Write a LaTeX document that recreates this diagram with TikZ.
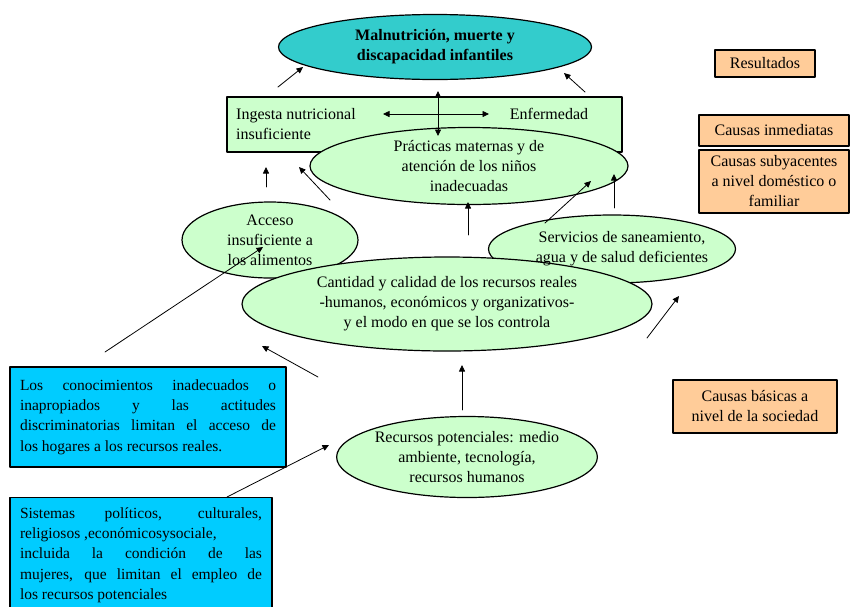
\documentclass[tikz,border=0pt]{standalone}
\usepackage{fontspec}
\setmainfont{Liberation Serif}
\usetikzlibrary{arrows.meta,shapes.geometric,positioning}
\definecolor{unTeal}{HTML}{33CCCC}
\definecolor{unMint}{HTML}{CCFFCC}
\definecolor{unCyan}{HTML}{00CCFF}
\definecolor{unPeach}{HTML}{FFCC99}
\tikzset{
 cadena/.style={font=\fontsize{16}{20}\selectfont,line cap=round,line join=round},
 oval/.style={ellipse,draw=black,fill=unMint,line width=1.2pt,inner sep=0pt,align=center},
 topoval/.style={oval,fill=unTeal,font=\fontsize{16}{20}\selectfont\bfseries},
 ovaltext/.style={inner sep=0pt,align=center},
 greenbox/.style={rectangle,draw=black,fill=unMint,line width=1.2pt,inner sep=0pt},
 boxtext/.style={inner sep=0pt,align=left},
 bluebox/.style={rectangle,draw=black,fill=unCyan,line width=1.2pt,inner sep=0pt,align=justify,
   font=\fontsize{15.5}{20.2}\selectfont},
 keybox/.style={rectangle,draw=black,fill=unPeach,line width=1.2pt,inner sep=0pt,align=center},
 flecha/.style={draw=black,line width=.8pt,-{Triangle[length=6.5pt,width=6pt]}},
 doble/.style={draw=black,line width=.8pt,{Triangle[length=6.5pt,width=6pt]}-{Triangle[length=6.5pt,width=6pt]}}
}

\begin{document}
\begin{tikzpicture}[cadena,x=1pt,y=-1pt]
 \clip (0,0) rectangle (850,606);
 % resultados
 \node[topoval,minimum width=313pt,minimum height=65pt] (malnut) at (435,47) {Malnutrición, muerte y\\discapacidad infantiles};
 % causas inmediatas
 \node[greenbox,minimum width=395pt,minimum height=55pt] (inmed) at (424.5,124.5) {};
 \node[boxtext,anchor=west] (ingesta) at (236,124) {Ingesta nutricional\\insuficiente};
 \node[boxtext] (enferm) at (549,114) {Enfermedad};
 \node[oval,minimum width=318pt,minimum height=77pt] (practicas) at (469,166) {Prácticas maternas y de\\atención de los niños\\inadecuadas};
 % causas subyacentes
 \node[oval,minimum width=176pt,minimum height=76pt] (acceso) at (270,240) {};
 \node[oval,minimum width=247pt,minimum height=68pt] (servicios) at (612,249) {};
 \node[oval,minimum width=410pt,minimum height=94pt] (reales) at (447,304) {Cantidad y calidad de los recursos reales\\-humanos, económicos y organizativos-\\y el modo en que se los controla};
 \node[ovaltext] (accesoTxt) at (acceso) {Acceso\\insuficiente a\\los alimentos};
 \node[ovaltext] (serviciosTxt) at (622,249) {Servicios de saneamiento,\\agua y de salud deficientes};
 % causas basicas
 \node[oval,minimum width=260pt,minimum height=81pt] (potencial) at (467,457) {Recursos potenciales: medio\\ambiente, tecnología,\\recursos humanos};
 \node[bluebox,minimum width=276pt,minimum height=100pt,text width=256pt] (conoc) at (148,417)
  {Los conocimientos inadecuados o\linebreak inapropiados y las actitudes\linebreak discriminatorias limitan el acceso de\linebreak los hogares a los recursos reales.};
 \node[bluebox,anchor=north,minimum width=262pt,minimum height=115pt,text width=242pt] (sistemas) at (141,497)
  {Sistemas políticos, culturales,\linebreak religiosos ,económicosysociale,\\ incluida la condición de las\linebreak mujeres, que limitan el empleo de\linebreak los recursos potenciales};
 % leyenda
 \node[keybox,minimum width=100pt,minimum height=27pt] (kRes) at (765,63.5) {Resultados};
 \node[keybox,minimum width=150pt,minimum height=31pt] (kInm) at (774,130.5) {Causas inmediatas};
 \node[keybox,minimum width=150pt,minimum height=63pt] (kSub) at (774,181.5) {Causas subyacentes\\a nivel doméstico o\\familiar};
 \node[keybox,minimum width=164pt,minimum height=53pt] (kBas) at (755,406.5) {Causas básicas a\\nivel de la sociedad};
 % flechas
 \coordinate (ingUp0) at (278,87);   \coordinate (ingUp1) at (303,67);
 \coordinate (enfUp0) at (585,92);   \coordinate (enfUp1) at (564,73);
 \coordinate (vert0) at (438,91);    \coordinate (vert1) at (438,136);
 \coordinate (hor0) at (383,114);    \coordinate (hor1) at (489,114);
 \coordinate (accUp0) at (266,187);  \coordinate (accUp1) at (266,167);
 \coordinate (accPr0) at (330,200);  \coordinate (accPr1) at (299,167);
 \coordinate (recPr0) at (468,235);  \coordinate (recPr1) at (468,202);
 \coordinate (serPr0) at (545,223);  \coordinate (serPr1) at (591,181);
 \coordinate (serUp0) at (614,208);  \coordinate (serUp1) at (614,174);
 \coordinate (conAc0) at (105,352);  \coordinate (conAc1) at (263,247);
 \coordinate (conRe0) at (318,377);  \coordinate (conRe1) at (262,346);
 \coordinate (potRe0) at (462,410);  \coordinate (potRe1) at (462,365);
 \coordinate (potSe0) at (647,338);  \coordinate (potSe1) at (679,296);
 \coordinate (sisPo0) at (227,497);  \coordinate (sisPo1) at (329,445);
 \draw[flecha] (ingUp0) -- (ingUp1);
 \draw[flecha] (enfUp0) -- (enfUp1);
 \draw[doble] (vert0) -- (vert1);
 \draw[doble] (hor0) -- (hor1);
 \draw[flecha] (accUp0) -- (accUp1);
 \draw[flecha] (accPr0) -- (accPr1);
 \draw[flecha] (recPr0) -- (recPr1);
 \draw[flecha] (serPr0) -- (serPr1);
 \draw[flecha] (serUp0) -- (serUp1);
 \draw[flecha] (conAc0) -- (conAc1);
 \draw[flecha] (conRe0) -- (conRe1);
 \draw[flecha] (potRe0) -- (potRe1);
 \draw[flecha] (potSe0) -- (potSe1);
 \draw[flecha] (sisPo0) -- (sisPo1);
\end{tikzpicture}
\end{document}
